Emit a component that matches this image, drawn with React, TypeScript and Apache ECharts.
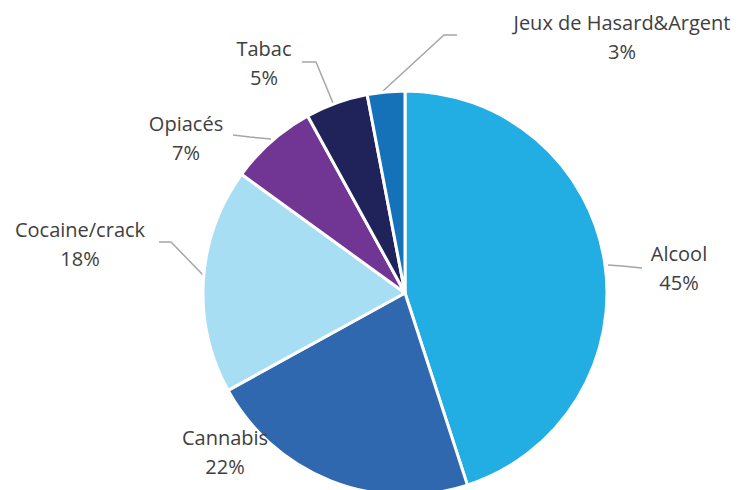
import React, { useEffect, useRef } from "react";
import * as echarts from "echarts";

const categories = ["Alcool", "Cannabis", "Cocaine/crack", "Opiacés", "Tabac", "Jeux de Hasard&Argent"];
const values = [45, 22, 18, 7, 5, 3];
const colors = ["#22ADE3", "#3068B0", "#A8DEF3", "#713593", "#20235A", "#1572B9"];

// label anchor positions (layout only)
const labelPos: number[][] = [
  [679, 268],
  [225, 452],
  [80, 244],
  [186, 138],
  [264, 63],
  [622, 37],
];
const linePts: (number[][] | null)[] = [
  [[608, 265], [622, 266], [642, 268]],
  null,
  [[203, 275], [171, 242], [159, 242]],
  [[271, 139], [250, 137], [233, 135]],
  [[333, 103], [316, 62], [302, 62]],
  [[383, 91], [444, 35], [457, 35]],
];

export default function App() {
  const ref = useRef<HTMLDivElement>(null);
  useEffect(() => {
    const chart = echarts.init(ref.current!, null, { renderer: "svg" });
    chart.setOption({
      animation: false,
      backgroundColor: "#ffffff",
      series: [
        {
          type: "pie",
          center: [405, 293],
          radius: 202,
          startAngle: 90,
          clockwise: true,
          data: categories.map((c, i) => ({
            name: c,
            value: values[i],
            itemStyle: { color: colors[i] },
            labelLine: { show: linePts[i] !== null },
          })),
          itemStyle: { borderColor: "#ffffff", borderWidth: 3 },
          label: {
            show: true,
            position: "outside",
            formatter: (p: any) => `${p.name}\n${p.value}%`,
            color: "#404040",
            fontFamily: "Open Sans",
            fontSize: 20,
            lineHeight: 29,
            align: "center",
          },
          labelLine: {
            show: true,
            lineStyle: { color: "#A6A6A6", width: 1.5 },
          },
          labelLayout: (params: any) => {
            const i = params.dataIndex;
            const res: any = {
              x: labelPos[i][0],
              y: labelPos[i][1],
              align: "center",
              verticalAlign: "middle",
            };
            if (linePts[i]) res.labelLinePoints = linePts[i];
            return res;
          },
        },
      ],
    });
    return () => chart.dispose();
  }, []);
  return (
    <div
      ref={ref}
      style={{ position: "fixed", left: 0, top: 0, width: 739, height: 490 }}
    />
  );
}
